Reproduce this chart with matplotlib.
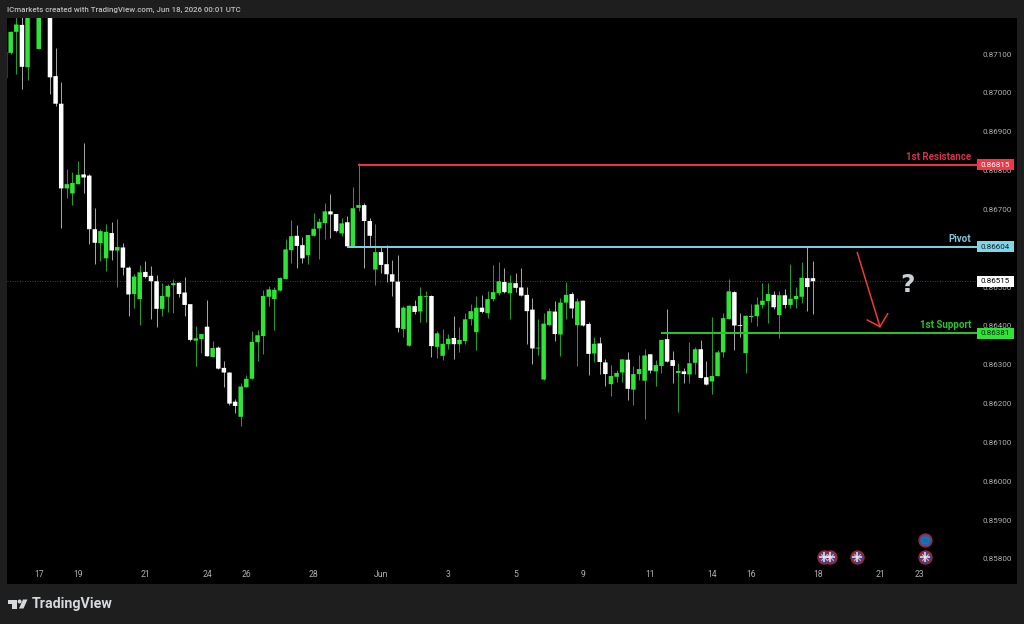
import numpy as np
import matplotlib
matplotlib.use('Agg')
import matplotlib.pyplot as plt
from matplotlib.patches import Polygon, Circle, Rectangle
from matplotlib.lines import Line2D
from matplotlib.transforms import IdentityTransform

# 4H candles, in points (1e-5)
opens = [87038,87103,87157,87175,87066,87235,87113,87235,87208,87043,
         86972,86754,86741,86765,86790,86787,86649,86613,86574,86639,
         86594,86602,86550,86482,86469,86539,86529,86515,86444,86475,
         86505,86511,86486,86456,86362,86366,86398,86320,86344,86292,
         86280,86205,86166,86242,86264,86358,86374,86475,86469,86491,
         86521,86595,86632,86608,86582,86632,86651,86665,86695,86688,
         86638,86667,86605,86704,86711,86670,86545,86590,86559,86533,
         86514,86392,86349,86451,86437,86475,86477,86346,86323,86353,
         86369,86353,86361,86418,86384,86447,86433,86469,86484,86513,
         86484,86510,86499,86480,86442,86342,86262,86402,86437,86378,
         86460,86482,86402,86465,86405,86329,86355,86306,86250,86269,
         86280,86313,86236,86276,86259,86327,86283,86297,86366,86312,
         86279,86283,86275,86305,86340,86268,86257,86271,86332,86418,
         86487,86402,86330,86423,86425,86454,86464,86480,86428,86479,
         86454,86469,86475,86523,86523]
closes = [87105,87157,87176,87067,87226,87208,87218,87208,87040,86972,
          86754,86765,86768,86789,86782,86649,86614,86644,86642,86594,
          86603,86550,86481,86527,86538,86526,86515,86444,86477,86503,
          86510,86482,86454,86364,86368,86379,86322,86343,86290,86280,
          86200,86194,86244,86264,86359,86376,86477,86494,86493,86523,
          86597,86631,86606,86574,86634,86650,86668,86695,86687,86644,
          86664,86605,86703,86711,86670,86632,86590,86557,86533,86514,
          86395,86447,86452,86436,86477,86477,86348,86381,86354,86367,
          86353,86364,86417,86438,86447,86436,86469,86487,86515,86487,
          86511,86498,86478,86438,86342,86344,86406,86438,86379,86460,
          86480,86445,86463,86401,86328,86354,86307,86276,86271,86279,
          86314,86238,86276,86289,86324,86285,86299,86364,86308,86297,
          86284,86276,86304,86340,86266,86249,86271,86332,86420,86489,
          86401,86400,86426,86426,86455,86465,86482,86448,86479,86454,
          86470,86477,86524,86500,86515]
highs = [87105,87160,87213,87203,87234,87245,87235,87245,87220,87115,
         87028,86804,86795,86825,86870,86790,86703,86649,86662,86668,
         86675,86614,86553,86533,86557,86567,86554,86531,86510,86508,
         86521,86514,86526,86456,86401,86379,86467,86362,86348,86310,
         86281,86212,86254,86274,86386,86390,86493,86503,86501,86525,
         86625,86673,86660,86628,86634,86690,86677,86717,86740,86688,
         86677,86683,86757,86819,86716,86677,86662,86604,86608,86570,
         86583,86450,86455,86467,86499,86491,86480,86387,86391,86379,
         86426,86397,86433,86456,86477,86480,86490,86557,86564,86548,
         86531,86537,86548,86499,86471,86418,86433,86445,86464,86473,
         86514,86487,86471,86467,86411,86371,86371,86314,86299,86287,
         86314,86332,86297,86324,86340,86328,86313,86364,86443,86335,
         86304,86291,86358,86347,86364,86310,86422,86338,86433,86520,
         86490,86433,86428,86456,86475,86510,86510,86490,86490,86494,
         86560,86499,86565,86602,86568]
lows = [87038,87100,87049,87010,87033,87195,87113,87195,86997,86966,
        86653,86729,86711,86765,86743,86610,86559,86568,86542,86570,
        86501,86531,86426,86445,86402,86523,86418,86398,86426,86437,
        86434,86475,86426,86362,86297,86330,86322,86320,86288,86244,
        86197,86177,86142,86242,86264,86310,86328,86452,86390,86491,
        86521,86563,86550,86563,86559,86632,86573,86624,86627,86643,
        86631,86605,86605,86696,86548,86604,86505,86536,86513,86478,
        86385,86372,86349,86430,86410,86410,86321,86317,86312,86340,
        86315,86332,86354,86402,86338,86432,86420,86464,86480,86484,
        86418,86487,86478,86354,86303,86325,86262,86402,86361,86322,
        86418,86420,86298,86401,86274,86306,86276,86246,86220,86255,
        86256,86210,86197,86262,86160,86278,86245,86280,86308,86254,
        86178,86254,86254,86275,86266,86249,86226,86271,86320,86418,
        86338,86372,86278,86410,86401,86445,86408,86444,86370,86447,
        86447,86446,86460,86438,86431]

date_pos = [6,13,25,36,43,55,67,79,91,103,115,126,133,145,156,163]
date_labels = ['17','19','21','24','26','28','Jun','3','5','9','11','14','16','18','21','23']
price_ticks = [0.858,0.859,0.860,0.861,0.862,0.863,0.864,0.865,0.866,0.867,0.868,0.869,0.870,0.871]

last_price = 0.86515
resistance = 0.86815
pivot = 0.86604
support = 0.86381
res_start, piv_start, sup_start = 62.9, 60.9, 116.9

uk_events = [147, 145.9, 151.9, 164]
eu_events = [164]

plt.rcParams['font.family'] = ['Roboto', 'DejaVu Sans']

GREEN = '#2ee536'
BG = '#1e1e1e'

fig = plt.figure(figsize=(10.24, 6.24), dpi=100, facecolor=BG)
ax = fig.add_axes([7/1024, 40/624, 1010/1024, 566/624], facecolor='black')

o = np.array(opens)/1e5
c = np.array(closes)/1e5
h = np.array(highs)/1e5
l = np.array(lows)/1e5
x = np.arange(len(o))
up = c >= o

ax.vlines(x[up], l[up], h[up], color='#23b02c', lw=0.65, zorder=2)
ax.vlines(x[~up], l[~up], h[~up], color='#b4b4b4', lw=0.65, zorder=2)
up_bars = ax.bar(x[up], (c-o)[up], bottom=o[up], width=0.8, color=GREEN, lw=0, zorder=3)
down_bars = ax.bar(x[~up], (o-c)[~up], bottom=c[~up], width=0.8, color='white', lw=0, zorder=3)
# no pixel snapping, bodies keep one width
for b in list(up_bars) + list(down_bars):
    b.set_snap(False)

ax.set_xlim(0.339, 180.38)
ax.set_ylim(0.857356, 0.871927)
right_edge = 173.2

ax.plot([0.339, right_edge], [last_price, last_price], color='#5a5a5a', lw=0.6, ls=(0, (1, 2)), zorder=1)

levels = [(resistance, res_start, '#f23645', '1st Resistance', '#d8304a', 'white', '#f23645'),
          (pivot, piv_start, '#7fd6e6', 'Pivot', '#7cc6d8', '#10252b', '#7fd6e6'),
          (support, sup_start, '#2cc532', '1st Support', '#27c42d', '#0b2a0b', '#2ee536')]
for val, start, col, name, tcol, tagtext, tagcol in levels:
    ax.plot([start, right_edge], [val, val], color=col, lw=1.4, zorder=4, solid_capstyle='butt')
    ax.text(172.2, val+0.00008, name, color=tcol, fontsize=7, fontweight='bold',
            ha='right', va='bottom', zorder=6)
    ax.add_patch(Rectangle((173.2, val-0.00014), 6.6, 0.00028, fc=tagcol, ec='none', zorder=8))
    ax.text(176.5, val, '%.5f' % val, color=tagtext, fontsize=5.8, ha='center', va='center', zorder=9)

ax.add_patch(Rectangle((173.2, last_price-0.00014), 6.6, 0.00028, fc='white', ec='none', zorder=8))
ax.text(176.5, last_price, '%.5f' % last_price, color='black', fontsize=5.8, ha='center', va='center', zorder=9)

ax.set_yticks(price_ticks)
ax.set_yticklabels(['%.5f' % p for p in price_ticks])
ax.yaxis.tick_right()
ax.tick_params(axis='y', length=0, pad=-24.7, labelsize=5.8, labelcolor='#b0b0b0')
ax.set_xticks(date_pos)
ax.set_xticklabels(date_labels)
ax.tick_params(axis='x', length=0, pad=-10, labelsize=6.2, labelcolor='#b0b0b0')
for lab in ax.get_yticklabels():
    lab.set_ha('left')
for s in ax.spines.values():
    s.set_visible(False)

# calendar events along the bottom
ev_y = 0.85805
ax.scatter(uk_events, [ev_y]*len(uk_events), s=85, fc='#3b4a8f', ec='#b01d30', lw=1.1, zorder=5)
ax.scatter(uk_events, [ev_y]*len(uk_events), s=22, marker='x', c='#e9a7b4', lw=0.8, zorder=6)
ax.scatter(uk_events, [ev_y]*len(uk_events), s=45, marker='+', c='#f4dfe2', lw=1.1, zorder=6)
ax.scatter(eu_events, [0.85848]*len(eu_events), s=85, fc='#1c68ad', ec='#b01d30', lw=1.1, zorder=5)
ax.scatter(eu_events, [0.85848]*len(eu_events), s=22, fc='none', ec='#4f8a9a', lw=0.5, ls=':', zorder=6)


# drawings and branding are placed in screen pixels (y from top)
def px(xp, yp):
    return (xp, 624 - yp)


pix = IdentityTransform()
arrow_col = '#f23a2e'
fig.add_artist(Line2D([857.3, 880], [624-252.7, 624-326.7], color=arrow_col, lw=1.1, transform=pix))
fig.add_artist(Line2D([867.3, 880, 887.7], [624-320, 624-326.7, 624-313.7], color=arrow_col, lw=1.1, transform=pix))
fig.text(908/1024, 1-284.5/624, '?', color='#c9ced6', fontsize=18, fontweight='bold',
         family='DejaVu Sans', ha='center', va='center')

fig.text(7/1024, 1-9.5/624, 'ICmarkets created with TradingView.com, Jun 18, 2026 00:01 UTC',
         color='#bdbdbd', fontsize=5.7, fontweight='medium', ha='left', va='center')

logo = '#d6d8dc'
fig.add_artist(Polygon([px(8, 599.5), px(17, 599.5), px(17, 608.5), px(12, 608.5), px(12, 603.5), px(8, 603.5)],
                       closed=True, fc=logo, ec='none', transform=pix))
fig.add_artist(Circle(px(19.6, 601.5), 2, fc=logo, ec='none', transform=pix))
fig.add_artist(Polygon([px(23, 599.5), px(27.5, 599.5), px(23.5, 608.5), px(19, 608.5)],
                       closed=True, fc=logo, ec='none', transform=pix))
fig.text(32/1024, 1-604/624, 'TradingView', color=logo, fontsize=10.3, fontweight='bold', ha='left', va='center')

fig.savefig('out.png', dpi=100, facecolor=BG)
